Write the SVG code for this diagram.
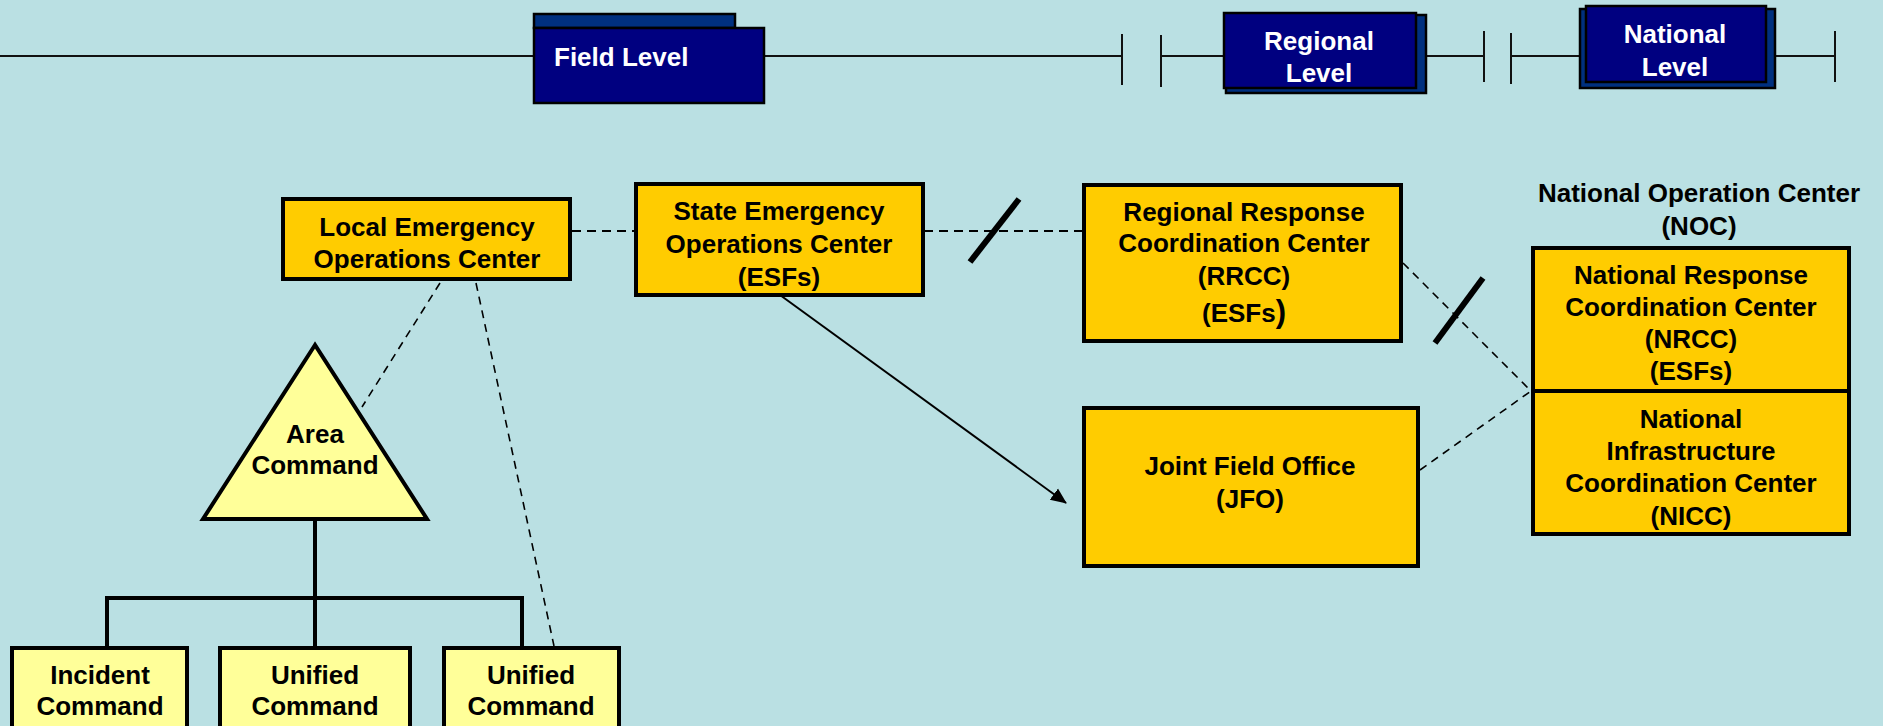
<svg xmlns="http://www.w3.org/2000/svg" width="1883" height="726" viewBox="0 0 1883 726">
<defs>
<style>
text{font-family:"Liberation Sans",Arial,sans-serif;font-weight:bold;font-size:26px;fill:#000;text-anchor:middle}
.w{fill:#fff}
.lvl{fill:#000080;stroke:#000;stroke-width:2.5}
.sh{fill:#00307F;stroke:#000;stroke-width:2.5}
.box{fill:#FFCC00;stroke:#000;stroke-width:4}
.ybox{fill:#FFFF99;stroke:#000;stroke-width:4}
.axis{stroke:#111;stroke-width:2;fill:none}
.dash{stroke:#000;stroke-width:2;stroke-dasharray:9 6;fill:none}
.dash2{stroke:#000;stroke-width:1.6;stroke-dasharray:8 6;fill:none}
.tree{stroke:#000;stroke-width:4;fill:none}
.brk{stroke:#000;stroke-width:6}
</style>
<marker id="ah" markerWidth="16" markerHeight="16" refX="15" refY="8" orient="auto" markerUnits="userSpaceOnUse" viewBox="0 0 16 16">
<path d="M0,1 L16,8 L0,15 z" fill="#000"/>
</marker>
</defs>
<rect width="1883" height="726" fill="#BAE0E3"/>

<g id="timeline">
<line class="axis" x1="0" y1="56" x2="1122" y2="56"/>
<line class="axis" x1="1122" y1="34" x2="1122" y2="85"/>
<line class="axis" x1="1161" y1="35" x2="1161" y2="87"/>
<line class="axis" x1="1161" y1="56" x2="1484" y2="56"/>
<line class="axis" x1="1484" y1="31" x2="1484" y2="82"/>
<line class="axis" x1="1511" y1="33" x2="1511" y2="84"/>
<line class="axis" x1="1511" y1="56" x2="1835" y2="56"/>
<line class="axis" x1="1835" y1="31" x2="1835" y2="82"/>
</g>

<g id="field-level">
<rect class="sh" x="534" y="14" width="201" height="14"/>
<rect class="lvl" x="534" y="28" width="230" height="75"/>
<text class="w" x="554" y="66" style="text-anchor:start">Field Level</text>
</g>
<g id="regional-level">
<rect class="sh" x="1226" y="15" width="200" height="78"/>
<rect class="lvl" x="1224" y="13" width="192" height="75"/>
<text class="w" x="1319" y="50">Regional</text>
<text class="w" x="1319" y="82">Level</text>
</g>
<g id="national-level">
<rect class="sh" x="1580" y="9" width="195" height="79"/>
<rect class="lvl" x="1586" y="6" width="180" height="76"/>
<text class="w" x="1675" y="43">National</text>
<text class="w" x="1675" y="76">Level</text>
</g>

<g id="connectors">
<line class="dash" x1="572" y1="231" x2="634" y2="231"/>
<line class="dash" x1="924" y1="231" x2="1082" y2="231"/>
<line class="brk" x1="1019" y1="199" x2="970" y2="262"/>
<line class="dash2" x1="1403" y1="263" x2="1531" y2="391"/>
<line class="dash2" x1="1420" y1="470" x2="1531" y2="391"/>
<line class="brk" x1="1483" y1="278" x2="1435" y2="343"/>
<line x1="780" y1="295" x2="1066" y2="503" stroke="#000" stroke-width="2" marker-end="url(#ah)"/>
<line class="dash2" x1="440" y1="283" x2="362" y2="407"/>
<line class="dash2" x1="476" y1="283" x2="554" y2="646"/>
<line class="tree" x1="315" y1="519" x2="315" y2="648"/>
<polyline class="tree" points="107,648 107,598 522,598 522,648"/>
</g>

<g id="local-eoc">
<rect class="box" x="283" y="199" width="287" height="80"/>
<text x="427" y="236">Local Emergency</text>
<text x="427" y="268">Operations Center</text>
</g>
<g id="state-eoc">
<rect class="box" x="636" y="184" width="287" height="111"/>
<text x="779" y="220">State Emergency</text>
<text x="779" y="253">Operations Center</text>
<text x="779" y="286">(ESFs)</text>
</g>
<g id="rrcc">
<rect class="box" x="1084" y="185" width="317" height="156"/>
<text x="1244" y="221">Regional Response</text>
<text x="1244" y="252">Coordination Center</text>
<text x="1244" y="285">(RRCC)</text>
<text x="1244" y="322">(ESFs<tspan style="font-size:31px">)</tspan></text>
</g>
<g id="jfo">
<rect class="box" x="1084" y="408" width="334" height="158"/>
<text x="1250" y="475">Joint Field Office</text>
<text x="1250" y="508">(JFO)</text>
</g>
<g id="noc">
<text x="1699" y="202">National Operation Center</text>
<text x="1699" y="235">(NOC)</text>
<rect class="box" x="1533" y="248" width="316" height="286"/>
<line x1="1533" y1="391" x2="1849" y2="391" stroke="#000" stroke-width="4"/>
<text x="1691" y="284">National Response</text>
<text x="1691" y="316">Coordination Center</text>
<text x="1691" y="348">(NRCC)</text>
<text x="1691" y="380">(ESFs)</text>
<text x="1691" y="428">National</text>
<text x="1691" y="460">Infrastructure</text>
<text x="1691" y="492">Coordination Center</text>
<text x="1691" y="525">(NICC)</text>
</g>
<g id="area-command">
<polygon class="ybox" points="315,345 203,519 427,519"/>
<text x="315" y="443">Area</text>
<text x="315" y="474">Command</text>
</g>
<g id="incident-command">
<rect class="ybox" x="12" y="648" width="175" height="100"/>
<text x="100" y="684">Incident</text>
<text x="100" y="715">Command</text>
</g>
<g id="unified-command-1">
<rect class="ybox" x="220" y="648" width="190" height="100"/>
<text x="315" y="684">Unified</text>
<text x="315" y="715">Command</text>
</g>
<g id="unified-command-2">
<rect class="ybox" x="444" y="648" width="175" height="100"/>
<text x="531" y="684">Unified</text>
<text x="531" y="715">Command</text>
</g>
</svg>
